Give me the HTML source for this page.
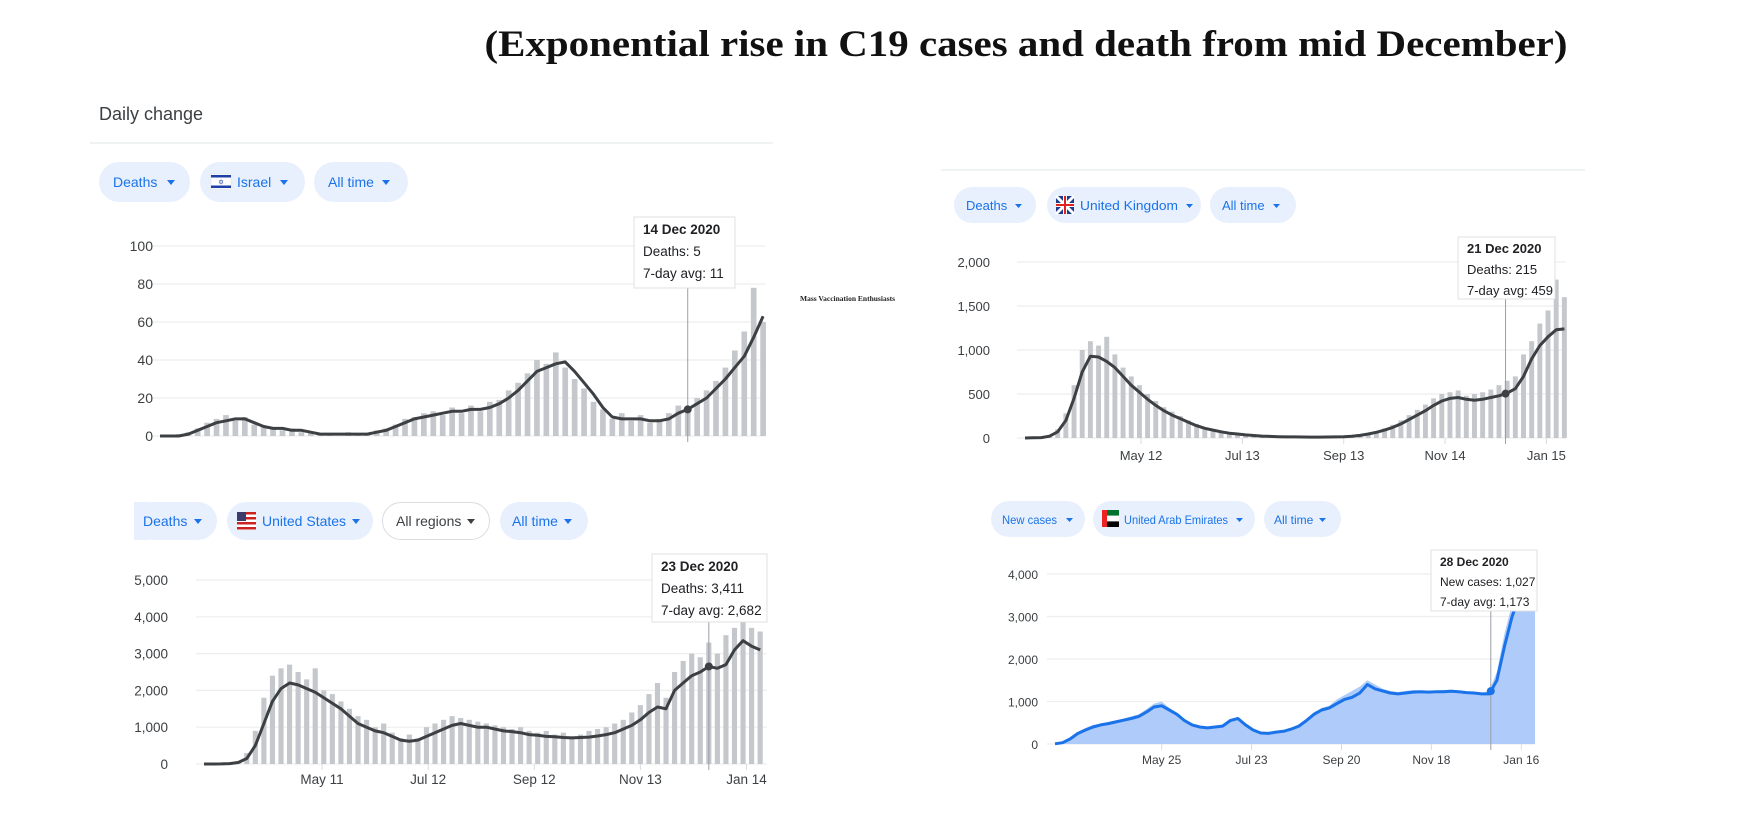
<!DOCTYPE html>
<html><head><meta charset="utf-8">
<style>
html,body{margin:0;padding:0;background:#fff;}
svg{display:block;font-family:"Liberation Sans",Arial,sans-serif;}
</style></head>
<body>
<svg id="root" width="1750" height="840" viewBox="0 0 1750 840">
  <text x="1026" y="56" text-anchor="middle" font-family="Liberation Serif, serif" font-weight="bold" font-size="37" textLength="1083" lengthAdjust="spacingAndGlyphs" fill="#111">(Exponential rise in C19 cases and death from mid December)</text>
  <text x="99" y="120" font-size="18" fill="#3c4043">Daily change</text>
  <line x1="90" y1="143" x2="773" y2="143" stroke="#eceff1" stroke-width="1.5"/>
  <line x1="941" y1="170" x2="1585" y2="170" stroke="#eceff1" stroke-width="1.5"/>
  <text x="800" y="301" font-family="Liberation Serif, serif" font-weight="bold" font-size="7.5" fill="#222">Mass Vaccination Enthusiasts</text>

  <!-- Israel pills -->
  <g><rect x="99" y="162" width="91" height="40" rx="20" fill="#e8f0fe"/><text x="113" y="187" font-size="14" fill="#1a73e8">Deaths</text><path d="M167 180 l8 0 l-4 5z" fill="#1a73e8"/></g>
  <g><rect x="200" y="162" width="105" height="40" rx="20" fill="#e8f0fe"/><rect x="211" y="174" width="20" height="15" fill="#fff" stroke="#ddd" stroke-width="0.5"/><rect x="211" y="175" width="20" height="2.5" fill="#1c3fa8"/><rect x="211" y="185.5" width="20" height="2.5" fill="#1c3fa8"/><text x="221" y="184.5" font-size="7" fill="#1c3fa8" text-anchor="middle">✡</text><text x="237" y="187" font-size="14" fill="#1a73e8">Israel</text><path d="M280 180 l8 0 l-4 5z" fill="#1a73e8"/></g>
  <g><rect x="314" y="162" width="94" height="40" rx="20" fill="#e8f0fe"/><text x="328" y="187" font-size="14" fill="#1a73e8">All time</text><path d="M382 180 l8 0 l-4 5z" fill="#1a73e8"/></g>

  <!-- UK pills -->
  <g><rect x="954" y="187" width="82" height="36" rx="18" fill="#e8f0fe"/><text x="966" y="210" font-size="13" fill="#1a73e8">Deaths</text><path d="M1015 204 l7 0 l-3.5 4z" fill="#1a73e8"/></g>
  <g><rect x="1047" y="187" width="154" height="36" rx="18" fill="#e8f0fe"/><rect x="1056" y="196" width="18" height="18" rx="2" fill="#1f3c8c"/><path d="M1056 196 L1074 214 M1074 196 L1056 214" stroke="#fff" stroke-width="3"/><rect x="1063" y="196" width="4" height="18" fill="#fff"/><rect x="1056" y="203" width="18" height="4" fill="#fff"/><rect x="1064" y="196" width="2" height="18" fill="#d22"/><rect x="1056" y="204" width="18" height="2" fill="#d22"/><text x="1080" y="210" font-size="13" fill="#1a73e8" textLength="98" lengthAdjust="spacingAndGlyphs">United Kingdom</text><path d="M1186 204 l7 0 l-3.5 4z" fill="#1a73e8"/></g>
  <g><rect x="1210" y="187" width="86" height="36" rx="18" fill="#e8f0fe"/><text x="1222" y="210" font-size="13" fill="#1a73e8">All time</text><path d="M1273 204 l7 0 l-3.5 4z" fill="#1a73e8"/></g>

  <!-- US pills -->
  <g><rect x="134" y="502" width="83" height="38" rx="19" fill="#e8f0fe"/><rect x="134" y="502" width="14" height="38" fill="#e8f0fe"/><text x="143" y="526" font-size="14" fill="#1a73e8">Deaths</text><path d="M194 519 l8 0 l-4 5z" fill="#1a73e8"/></g>
  <g><rect x="227" y="502" width="146" height="38" rx="19" fill="#e8f0fe"/><g><rect x="237" y="512" width="19" height="18" fill="#fff"/><rect x="237" y="512" width="19" height="2.5" fill="#c22"/><rect x="237" y="517" width="19" height="2.5" fill="#c22"/><rect x="237" y="522" width="19" height="2.5" fill="#c22"/><rect x="237" y="527" width="19" height="2.5" fill="#c22"/><rect x="237" y="512" width="9" height="9" fill="#3c3b6e"/></g><text x="262" y="526" font-size="14" fill="#1a73e8">United States</text><path d="M352 519 l8 0 l-4 5z" fill="#1a73e8"/></g>
  <g><rect x="382.5" y="502.5" width="107" height="37" rx="18.5" fill="#fff" stroke="#dadce0"/><text x="396" y="526" font-size="14" fill="#3c4043">All regions</text><path d="M467 519 l8 0 l-4 5z" fill="#3c4043"/></g>
  <g><rect x="500" y="502" width="88" height="38" rx="19" fill="#e8f0fe"/><text x="512" y="526" font-size="14" fill="#1a73e8">All time</text><path d="M564 519 l8 0 l-4 5z" fill="#1a73e8"/></g>

  <!-- UAE pills -->
  <g><rect x="991" y="501" width="94" height="36" rx="18" fill="#e8f0fe"/><text x="1002" y="524" font-size="12" fill="#1a73e8" textLength="55" lengthAdjust="spacingAndGlyphs">New cases</text><path d="M1066 518 l7 0 l-3.5 4z" fill="#1a73e8"/></g>
  <g><rect x="1093" y="501" width="162" height="36" rx="18" fill="#e8f0fe"/><rect x="1102" y="510" width="17" height="5.7" fill="#00732f"/><rect x="1102" y="515.7" width="17" height="5.7" fill="#fff"/><rect x="1102" y="521.4" width="17" height="5.6" fill="#000"/><rect x="1102" y="510" width="5" height="17" fill="#e22"/><text x="1124" y="524" font-size="12" fill="#1a73e8" textLength="104" lengthAdjust="spacingAndGlyphs">United Arab Emirates</text><path d="M1236 518 l7 0 l-3.5 4z" fill="#1a73e8"/></g>
  <g><rect x="1264" y="501" width="77" height="36" rx="18" fill="#e8f0fe"/><text x="1274" y="524" font-size="12" fill="#1a73e8">All time</text><path d="M1319 518 l7 0 l-3.5 4z" fill="#1a73e8"/></g>

  <g id="charts"></g>
</svg>
<script>
// ---------- data (sampled every 5 days, day-of-year 2020) ----------
const ilStartDay = 64;
const ilBars = [0,0,1,2,4,7,9,11,8,10,6,5,4,3,4,2,2,1,1,0,2,1,1,3,4,6,9,10,12,13,11,15,12,16,13,18,19,24,28,33,40,38,44,36,30,25,18,14,9,12,8,11,7,9,12,16,13,20,24,29,36,45,55,78,60];
const ilAvg = [0,0,0,1,3,5,7,8,9,9,7,5,4,4,3,3,2,1,1,1,1,1,1,2,3,5,7,9,10,11,12,13,13,14,14,15,17,20,24,29,34,36,38,39,34,28,22,15,10,9,9,9,8,8,9,12,14,17,20,25,30,36,42,52,63];
const ilYTicks = [0,20,40,60,80,100];

const ukStartDay = 61;
const ukBars = [0,3,8,30,100,280,600,1000,1100,1050,1150,950,800,700,600,500,420,350,300,250,200,160,120,100,80,60,50,40,30,25,20,18,15,14,12,11,12,13,14,18,25,40,55,80,110,150,200,260,320,380,450,500,520,540,480,500,520,550,600,650,700,950,1100,1300,1450,1800,1600];
const ukAvg = [0,2,5,20,70,200,450,750,930,920,870,800,700,600,520,440,370,310,260,220,180,140,110,90,70,55,45,35,28,22,18,15,13,12,11,10,10,11,12,15,20,30,45,65,90,120,160,210,260,310,370,420,450,460,440,430,440,460,480,510,560,700,900,1050,1150,1230,1240];
const ukYTicks = [0,500,1000,1500,2000];
const ukTickDays = [132,194,256,318,380];
const ukTickLabels = ["May 12","Jul 13","Sep 13","Nov 14","Jan 15"];

const usStartDay = 62;
const usBars = [0,0,5,20,80,300,900,1800,2400,2600,2700,2500,2300,2600,2000,1900,1700,1500,1300,1200,1000,1100,850,700,800,700,1000,1100,1200,1300,1250,1200,1150,1100,1050,1000,950,1000,900,850,900,800,850,750,800,900,950,1000,1100,1200,1400,1600,1900,2200,1800,2500,2800,3000,2900,3300,3000,3500,3700,3900,3700,3600];
const usAvg = [0,0,2,10,40,150,500,1100,1700,2050,2200,2150,2050,1950,1800,1650,1500,1300,1100,1000,900,850,750,650,620,650,750,850,950,1050,1100,1050,1000,1000,950,900,880,850,800,780,750,740,720,710,720,730,760,800,850,950,1050,1200,1400,1550,1500,2000,2200,2400,2500,2650,2600,2700,3100,3350,3200,3100];
const usYTicks = [0,1000,2000,3000,4000,5000];
const usTickDays = [131,193,255,317,379];
const usTickLabels = ["May 11","Jul 12","Sep 12","Nov 13","Jan 14"];

const aeStartDay = 76;
const aeBars = [10,50,150,280,380,450,480,520,560,600,650,700,820,950,1000,850,720,580,480,420,400,420,450,580,620,480,350,280,270,300,320,380,460,600,750,850,900,1050,1150,1250,1350,1500,1400,1300,1250,1220,1250,1270,1260,1250,1260,1270,1280,1260,1240,1230,1200,1250,1700,2600,3300,3800,4100,4200];
const aeAvg = [5,30,120,250,330,400,450,480,520,560,600,650,750,870,900,800,700,550,450,400,380,400,420,550,600,450,330,260,250,280,300,350,420,550,700,800,850,950,1050,1100,1200,1400,1300,1250,1200,1180,1200,1220,1230,1220,1230,1230,1240,1230,1210,1200,1180,1180,1500,2300,3000,3500,3900,4000];
const aeYTicks = [0,1000,2000,3000,4000];
const aeTickDays = [146,205,264,323,382];
const aeTickLabels = ["May 25","Jul 23","Sep 20","Nov 18","Jan 16"];

const NS = "http://www.w3.org/2000/svg";
const root = document.getElementById("charts");
function mk(tag, attrs, parent){ const e=document.createElementNS(NS,tag); for(const k in attrs) e.setAttribute(k,attrs[k]); (parent||root).appendChild(e); return e; }
function fmt(v){ return v.toLocaleString("en-US"); }

function drawChart(c){
  const g = mk("g",{});
  
  
  const step = 5;
  const d0 = c.start, d1 = c.endDay;
  const xs = d => c.x0 + (d - d0) * (c.x1 - c.x0) / (d1 - d0);
  const ymax = c.yTicks[c.yTicks.length-1];
  const ys = v => c.yb - v * (c.yb - c.yt) / ymax;
  c.yTicks.forEach(t=>{
    const l = mk("line",{x1:c.x0-8,x2:c.x1,y1:ys(t),y2:ys(t),stroke:"#eeeeee","stroke-width":1.2},g);
    
    
    const tx = mk("text",{x:c.labelX,y:ys(t)+5,"text-anchor":"end","font-size":c.fs,fill:"#3c4043"},g);
    tx.textContent = fmt(t);
    
    
  });
  const bw = step * (c.x1 - c.x0) / (d1 - d0);
  const clipTop = c.clipTop;
  if(c.area){
    let p = "M"+xs(d0)+","+c.yb;
    c.bars.forEach((v,i)=>{ const d=d0+i*step; p+=" L"+xs(d)+","+Math.max(clipTop,ys(v)); });
    p += " L"+xs(d0+(c.bars.length-1)*step)+","+c.yb+"Z";
    const a = mk("path",{d:p,fill:"#aecbfa"},g);
    
    
  } else {
    c.bars.forEach((v,i)=>{
      const d=d0+i*step; const y=Math.max(clipTop,ys(v));
      const r = mk("rect",{x:xs(d)-bw*0.3,y:y,width:Math.max(1,bw*0.6),height:c.yb-y,fill:"#c4c7cb"},g);
      
      
    });
  }
  (c.tickDays||[]).forEach((d,i)=>{
    const tl = mk("line",{x1:xs(d),x2:xs(d),y1:c.yb,y2:c.yb+6,stroke:"#dadce0"},g);
    
    
    const tx = mk("text",{x:xs(d),y:c.yb+c.tickDy,"text-anchor":"middle","font-size":c.fs,fill:"#3c4043"},g);
    tx.textContent = c.tickLabels[i];
    
    
  });
  let p="";
  c.avg.forEach((v,i)=>{ const d=d0+i*step; p+=(i?" L":"M")+xs(d).toFixed(1)+","+Math.max(clipTop,ys(v)).toFixed(1); });
  const ln = mk("path",{d:p,fill:"none",stroke:c.lineColor,"stroke-width":3,"stroke-linejoin":"round"},g);
  
  
  const vx = xs(c.tipDay);
  const vl = mk("line",{x1:vx,x2:vx,y1:c.tip.y+c.tip.h,y2:c.yb+6,stroke:"#9aa0a6","stroke-width":1},g);
  
  
  const fi = (c.tipDay - d0)/step, i0=Math.floor(fi), f=fi-i0;
  const av = c.avg[i0]*(1-f) + (c.avg[i0+1]||c.avg[i0])*f;
  const dot = mk("circle",{cx:vx,cy:ys(av),r:4,fill:c.lineColor},g);
  
  
  const tg = mk("g",{},g);
  
  
  mk("rect",{x:c.tip.x,y:c.tip.y,width:c.tip.w,height:c.tip.h,fill:"#fff",stroke:"#e0e0e0"},tg);
  c.tip.lines.forEach((s,i)=>{
    const t = mk("text",{x:c.tip.x+9,y:c.tip.y+c.tip.ly0+i*c.tip.lh,"font-size":c.tip.fs,fill:"#202124","font-weight":i?"normal":"bold"},tg);
    t.textContent = s;
  });
}

drawChart({name:"israel-deaths-chart",bars:ilBars,avg:ilAvg,yTicks:ilYTicks,start:ilStartDay,endDay:385,
  x0:160,x1:765,yb:436,yt:246,labelX:153,fs:14,clipTop:246,lineColor:"#3c4043",tickDays:[],tickLabels:[],tickDy:20,
  tipDay:344,tip:{x:634,y:217,w:101,h:71,ly0:17,lh:22,fs:13.5,lines:["14 Dec 2020","Deaths: 5","7-day avg: 11"]}});
drawChart({name:"uk-deaths-chart",bars:ukBars,avg:ukAvg,yTicks:ukYTicks,start:ukStartDay,endDay:392,
  x0:1025,x1:1566,yb:438,yt:262,labelX:990,fs:13,clipTop:262,lineColor:"#3c4043",tickDays:ukTickDays,tickLabels:ukTickLabels,tickDy:22,
  tipDay:355,tip:{x:1458,y:237,w:97,h:62,ly0:16,lh:21,fs:13,lines:["21 Dec 2020","Deaths: 215","7-day avg: 459"]}});
drawChart({name:"us-deaths-chart",bars:usBars,avg:usAvg,yTicks:usYTicks,start:usStartDay,endDay:391,
  x0:204,x1:767,yb:764,yt:580,labelX:168,fs:13.5,clipTop:580,lineColor:"#3c4043",tickDays:usTickDays,tickLabels:usTickLabels,tickDy:20,
  tipDay:357,tip:{x:652,y:554,w:115,h:68,ly0:17,lh:22,fs:13.5,lines:["23 Dec 2020","Deaths: 3,411","7-day avg: 2,682"]}});
drawChart({name:"uae-cases-chart",bars:aeBars,avg:aeAvg,yTicks:aeYTicks,start:aeStartDay,endDay:391,
  x0:1055,x1:1535,yb:744,yt:574,labelX:1038,fs:12,clipTop:551,lineColor:"#1a73e8",area:true,tickDays:aeTickDays,tickLabels:aeTickLabels,tickDy:20,
  tipDay:362,tip:{x:1431,y:550,w:106,h:61,ly0:16,lh:20,fs:12,lines:["28 Dec 2020","New cases: 1,027","7-day avg: 1,173"]}});
</script>
</body></html>
